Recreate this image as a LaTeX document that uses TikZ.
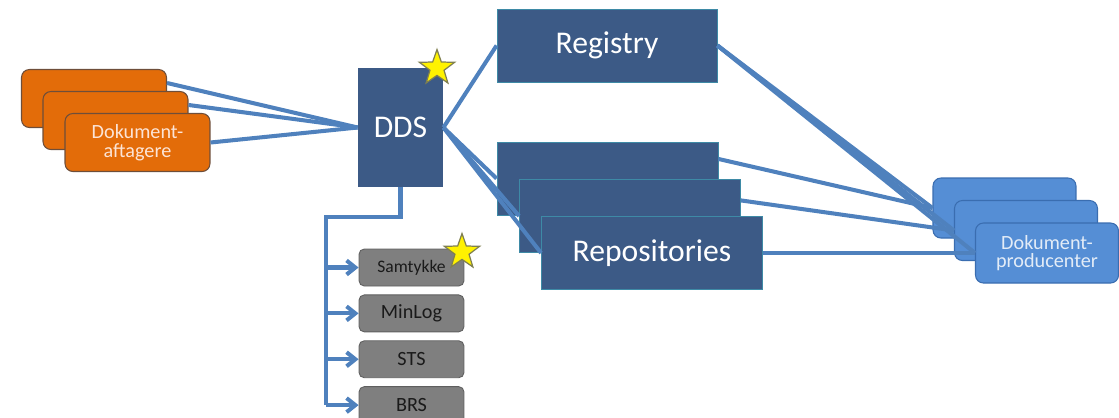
\documentclass[tikz,border=0pt]{standalone}
\usepackage{fontspec}
\setmainfont{Carlito}
\usetikzlibrary{positioning,shapes.geometric,arrows.meta}

\definecolor{ddsblue}{HTML}{3C5A86}
\definecolor{ddsedge}{HTML}{3E8AA6}
\definecolor{linkblue}{HTML}{4F81BD}
\definecolor{agorange}{HTML}{E36C09}
\definecolor{agedge}{HTML}{6E4E3A}
\definecolor{agtext}{HTML}{FCE4D6}
\definecolor{pdblue}{HTML}{558ED5}
\definecolor{pdedge}{HTML}{3A6DB0}
\definecolor{pdtext}{HTML}{E3ECF7}
\definecolor{svcgray}{HTML}{7F7F7F}
\definecolor{svcedge}{HTML}{5F5F5F}
\definecolor{svctext}{HTML}{1A1A1A}
\definecolor{staredge}{HTML}{7F7F50}

\tikzset{
  darkbox/.style={rectangle, fill=ddsblue, draw=ddsedge, line width=0.5pt,
    text=white, font=\fontsize{18}{20}\selectfont, inner sep=0pt},
  agbox/.style={rectangle, rounded corners=4.5pt, fill=agorange, draw=agedge,
    line width=0.6pt, text=agtext, align=center, inner sep=0pt,
    minimum width=2.9cm, minimum height=1.16cm,
    font=\fontsize{11.5}{10.6}\selectfont},
  pdbox/.style={agbox, fill=pdblue, draw=pdedge, text=pdtext,
    minimum width=2.86cm, minimum height=1.2cm},
  svcbox/.style={rectangle, rounded corners=3pt, fill=svcgray, draw=svcedge,
    line width=0.5pt, text=svctext, inner sep=0pt,
    minimum width=2.1cm, minimum height=0.74cm,
    font=\fontsize{11.5}{13}\selectfont},
  link/.style={draw=linkblue, line width=2.3pt, line join=miter},
  flag/.style={star, star points=5, star point ratio=2.5, fill=yellow,
    draw=staredge, line width=0.7pt, minimum size=0.74cm, inner sep=0pt}
}

\begin{document}
\begin{tikzpicture}[x=0.02cm,y=-0.02cm]
  \useasboundingbox (0,0) rectangle (1119,417);

  % Nodes
  \node[agbox] (ag1) at (94,98.5) {};
  \node[agbox] (ag2) at (115.5,120.5) {};
  \node[agbox] (ag3) at (137.5,142.5) {Dokument-\\aftagere};

  \node[darkbox, draw=none, minimum width=1.7cm, minimum height=2.38cm] (dds) at (400.5,127.5) {DDS};

  \node[darkbox, minimum width=4.4cm, minimum height=1.46cm] (registry) at (607,45.5) {Registry};

  \node[darkbox, minimum width=4.42cm, minimum height=1.46cm] (rp1) at (607.5,178.5) {};
  \node[darkbox, minimum width=4.42cm, minimum height=1.46cm] (rp2) at (630,216) {};
  \node[darkbox, minimum width=4.42cm, minimum height=1.46cm] (rp3) at (652,253) {Repositories};

  \node[pdbox] (pd1) at (1004.5,208) {};
  \node[pdbox] (pd2) at (1026,230.5) {};
  \node[pdbox] (pd3) at (1047,253) {Dokument-\\producenter};

  \node[svcbox, font=\fontsize{10}{12}\selectfont] (samtykke) at (411.5,267.5) {Samtykke};
  \node[svcbox, below = 0.16cm of samtykke] (minlog) {MinLog};
  \node[svcbox, below = 0.16cm of minlog] (sts) {STS};
  \node[svcbox, below = 0.16cm of sts] (brs) {BRS};

  \coordinate (busend) at (326,405);

  % Edges
  \draw[link] (ag1.12) -- (dds.west);
  \draw[link] (ag2.12) -- (dds.west);
  \draw[link] (ag3.east) -- (dds.west);

  \draw[link] (dds.east) -- (registry.west);
  \foreach \r in {rp1,rp2,rp3}
    \draw[link] (dds.east) -- (\r.west);

  \foreach \p in {pd1,pd2,pd3}
    \draw[link] (registry.east) -- (\p.west);

  \draw[link] (rp1.10) -- (pd1.west);
  \draw[link] (rp2.8) -- (pd2.west);
  \draw[link] (rp3.east) -- (pd3.west);

  \draw[link] (dds.south) -- ++(0,30) -| (busend);
  \foreach \g in {samtykke,minlog,sts,brs}
    \draw[link, -{Straight Barb[length=5pt,width=8pt]}] (busend |- \g.west) -- (\g.west);

  % Stars
  \node[flag] (ddsstar) at (437,68) {};
  \node[flag] (samtykkestar) at (462,252) {};
\end{tikzpicture}
\end{document}
